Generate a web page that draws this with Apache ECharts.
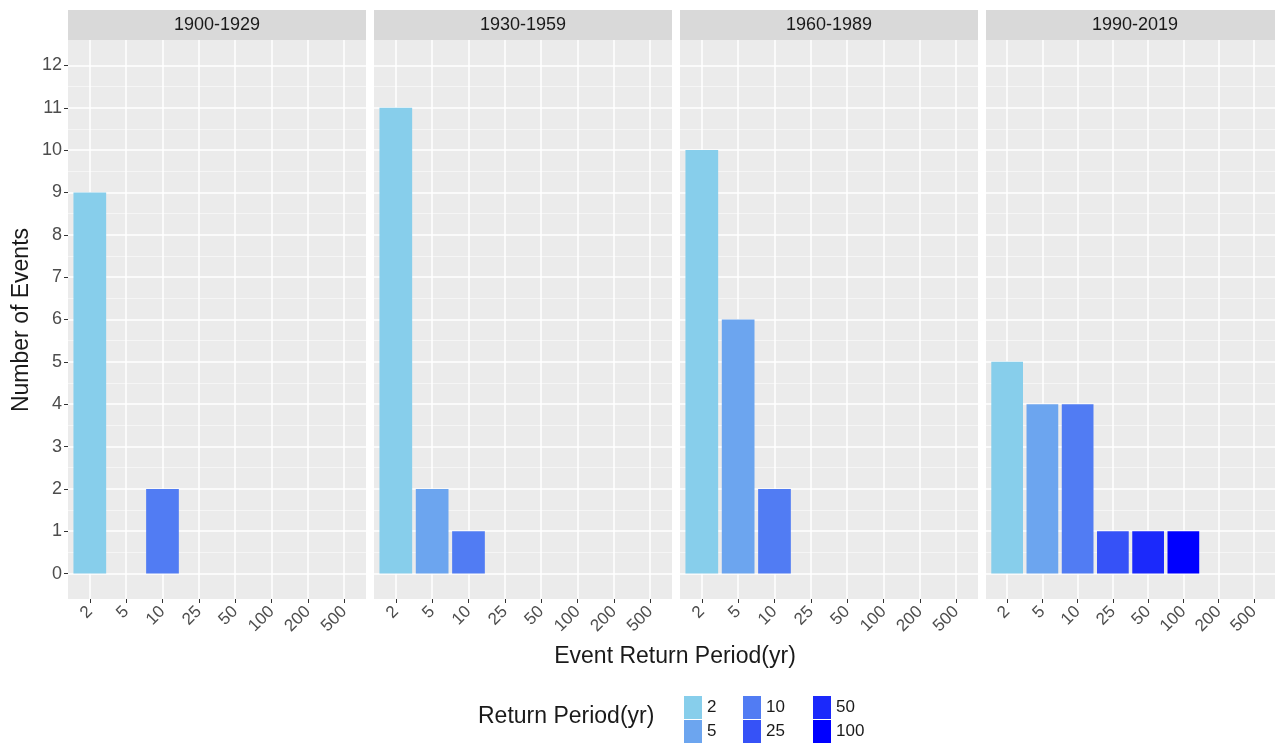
<!DOCTYPE html>
<html>
<head>
<meta charset="utf-8">
<script src="https://cdn.jsdelivr.net/npm/echarts@6/dist/echarts.min.js"></script>
<style>
  html, body { margin: 0; padding: 0; background: #ffffff; }
  #chart { width: 1275px; height: 743px; }
</style>
</head>
<body>
<div id="chart"></div>
<script>
// Return periods on the x axis of every facet
const periods = ['2', '5', '10', '25', '50', '100', '200', '500'];
// Return periods that appear in the fill legend
const fillPeriods = ['2', '5', '10', '25', '50', '100'];
const fillColors = ['#87CEEB', '#6CA5EF', '#517CF3', '#3652F7', '#1B29FB', '#0000FF'];

// Facet titles (thirty-year windows)
const facets = ['1900-1929', '1930-1959', '1960-1989', '1990-2019'];

// Number of events per return period, one array per window
const counts1900 = [9, 0, 2, 0, 0, 0];
const counts1930 = [11, 2, 1, 0, 0, 0];
const counts1960 = [10, 6, 2, 0, 0, 0];
const counts1990 = [5, 4, 4, 1, 1, 1];
const facetCounts = [counts1900, counts1930, counts1960, counts1990];

// Axis ticks
const yTicks = [0, 1, 2, 3, 4, 5, 6, 7, 8, 9, 10, 11, 12];
const yMinorTicks = [0.5, 1.5, 2.5, 3.5, 4.5, 5.5, 6.5, 7.5, 8.5, 9.5, 10.5, 11.5];

// Panel layout
const panelLeft = [68, 374, 680, 986];
const panelWidth = 298;
const panelTop = 40;
const panelHeight = 559;
const stripTop = 10;
const stripHeight = 30;

const FONT = 'Liberation Sans, Arial, sans-serif';
const xIdx = periods.map((p, i) => i);

const grids = [], xAxes = [], yAxes = [], series = [], graphics = [];

facets.forEach((name, i) => {
  grids.push({
    left: panelLeft[i], top: panelTop, width: panelWidth, height: panelHeight,
    show: true, backgroundColor: '#EBEBEB', borderWidth: 0, containLabel: false
  });
  xAxes.push({
    type: 'value', gridIndex: i, min: -0.6, max: 7.6, position: 'bottom',
    axisLine: { show: false, onZero: false },
    axisTick: { show: true, length: 4, customValues: xIdx, lineStyle: { color: '#333333', width: 1 } },
    axisLabel: {
      show: true, customValues: xIdx, rotate: 45, margin: 10,
      color: '#4D4D4D', fontSize: 17, fontFamily: FONT,
      formatter: v => periods[Math.round(v)]
    },
    splitLine: { show: true, lineStyle: { color: '#FFFFFF', width: 1.5 } }
  });
  // major y grid + ticks
  yAxes.push({
    type: 'value', gridIndex: i, min: -0.6, max: 12.6, position: 'left',
    axisLine: { show: false, onZero: false },
    axisTick: { show: i === 0, length: 4, customValues: yTicks, lineStyle: { color: '#333333', width: 1 } },
    axisLabel: {
      show: i === 0, customValues: yTicks, margin: 6,
      color: '#4D4D4D', fontSize: 18, fontFamily: FONT
    },
    splitLine: { show: true, lineStyle: { color: '#FFFFFF', width: 1.5 } }
  });
  // strip header
  graphics.push({
    type: 'rect', left: panelLeft[i], top: stripTop, silent: true,
    shape: { width: panelWidth, height: stripHeight },
    style: { fill: '#D9D9D9' }
  });
  graphics.push({
    type: 'text', silent: true,
    x: panelLeft[i] + panelWidth / 2, y: stripTop + stripHeight / 2,
    style: {
      text: name, fill: '#1A1A1A', font: '18px ' + FONT,
      textAlign: 'center', textVerticalAlign: 'middle'
    }
  });
});

// minor y grid lines (halves), one hidden axis per panel
facets.forEach((name, i) => {
  yAxes.push({
    type: 'value', gridIndex: i, min: -0.6, max: 12.6, position: 'left',
    axisLine: { show: false, onZero: false },
    axisTick: { show: false, customValues: yMinorTicks },
    axisLabel: { show: false, customValues: yMinorTicks },
    splitLine: { show: true, lineStyle: { color: '#F7F7F7', width: 0.8 } }
  });
});

facetCounts.forEach((counts, i) => {
  fillPeriods.forEach((p, j) => {
    series.push({
      type: 'bar', name: p, xAxisIndex: i, yAxisIndex: i,
      stack: 'facet' + i, barWidth: '90%',
      itemStyle: { color: fillColors[j] },
      data: [[j, counts[j]]],
      z: 3
    });
  });
});

// axis titles and legend title
graphics.push({
  type: 'text', silent: true, x: 675, y: 657,
  style: { text: 'Event Return Period(yr)', fill: '#1A1A1A', font: '23px ' + FONT, textAlign: 'center', textVerticalAlign: 'middle' }
});
graphics.push({
  type: 'text', silent: true, x: 22, y: 320, rotation: Math.PI / 2,
  style: { text: 'Number of Events', fill: '#1A1A1A', font: '23px ' + FONT, textAlign: 'center', textVerticalAlign: 'middle' }
});
graphics.push({
  type: 'text', silent: true, x: 478, y: 717,
  style: { text: 'Return Period(yr)', fill: '#1A1A1A', font: '23px ' + FONT, textAlign: 'left', textVerticalAlign: 'middle' }
});

const legendCols = [[fillPeriods[0], fillPeriods[1]], [fillPeriods[2], fillPeriods[3]], [fillPeriods[4], fillPeriods[5]]];
const legendLeft = [684, 743, 813];
const legends = legendCols.map((names, k) => ({
  orient: 'vertical', left: legendLeft[k], top: 696, padding: 0,
  itemWidth: 18, itemHeight: 23, itemGap: 1, icon: 'rect',
  selectedMode: false, data: names,
  textStyle: { color: '#1A1A1A', fontSize: 17, fontFamily: FONT, padding: [0, 0, 0, 0] }
}));

const chart = echarts.init(document.getElementById('chart'), null, { renderer: 'canvas' });
chart.setOption({
  animation: false,
  backgroundColor: '#FFFFFF',
  grid: grids,
  xAxis: xAxes,
  yAxis: yAxes,
  legend: legends,
  series: series,
  graphic: graphics
});
</script>
</body>
</html>
